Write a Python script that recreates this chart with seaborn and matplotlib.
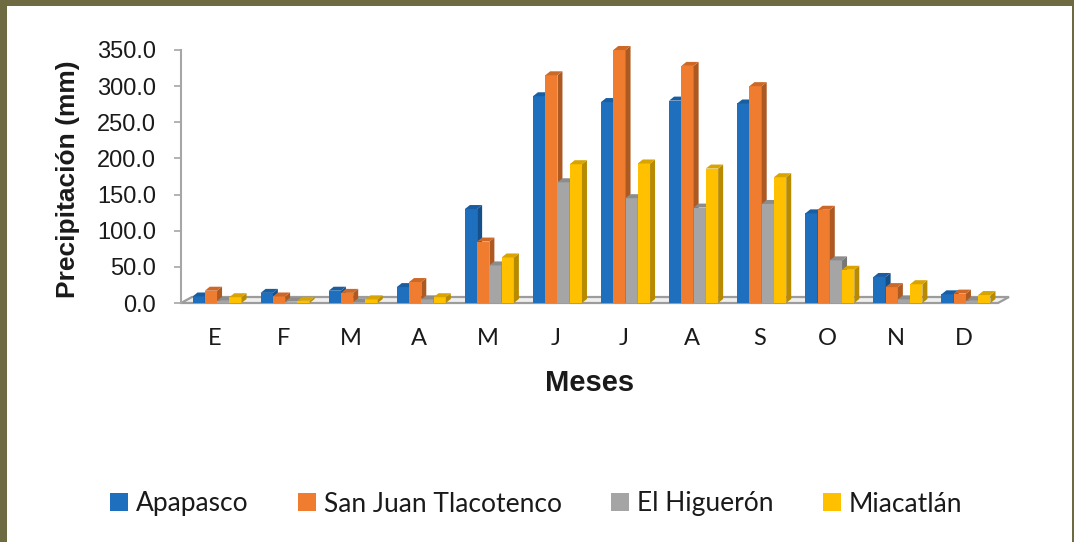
import numpy as np
import pandas as pd
import seaborn as sns
import matplotlib.pyplot as plt
import matplotlib.colors as mcolors
from matplotlib.patches import Polygon, Rectangle
from matplotlib.lines import Line2D

# Monthly precipitation (mm) for four stations
meses = ["Enero", "Febrero", "Marzo", "Abril", "Mayo", "Junio", "Julio",
         "Agosto", "Septiembre", "Octubre", "Noviembre", "Diciembre"]
etiquetas_mes = ["E", "F", "M", "A", "M", "J", "J", "A", "S", "O", "N", "D"]
estaciones = ["Apapasco", "San Juan Tlacotenco", "El Higuerón", "Miacatlán"]

apapasco = [9, 14, 17, 22, 130, 286, 278, 280, 276, 124, 36, 12]
san_juan = [17, 9, 14, 29, 85, 315, 350, 328, 300, 129, 22, 13]
higueron = [3, 2, 1, 5, 52, 167, 145, 132, 137, 59, 5, 3]
miacatlan = [8, 3, 5, 8, 63, 192, 193, 186, 174, 46, 26, 11]

y_ticks = [0, 50, 100, 150, 200, 250, 300, 350]

colores = ["#1F6FBF", "#F07C2F", "#A5A5A5", "#FFC000"]

df = pd.DataFrame({
    "Mes": meses * 4,
    "Estación": np.repeat(estaciones, len(meses)),
    "Precipitación": apapasco + san_juan + higueron + miacatlan,
})

sns.set_theme(style="white")
plt.rcParams["font.family"] = ["Liberation Sans", "DejaVu Sans"]

W, H = 1074, 542
fig = plt.figure(figsize=(W / 100, H / 100), dpi=100)
fig.patch.set_facecolor("white")
ax = fig.add_axes([181 / W, 239 / H, 817 / W, 253 / H])

sns.barplot(data=df, x="Mes", y="Precipitación", hue="Estación",
            order=meses, hue_order=estaciones, palette=colores,
            width=0.72, saturation=1, errorbar=None, linewidth=0,
            legend=False, ax=ax)

ax.set_xlim(-0.5, len(meses) - 0.5)
ax.set_ylim(0, 350)

# pixel -> data conversion for the pseudo-3D depth
p0 = ax.transData.transform((0, 0))
p1 = ax.transData.transform((1, 1))
sx, sy = p1[0] - p0[0], p1[1] - p0[1]
bar_dx, bar_dy = 5 / sx, 4 / sy
floor_dx, floor_dy = 11 / sx, 6 / sy
shift = 2 / sx  # slight perspective offset of the bar clusters


def shade(c, f):
    r, g, b = mcolors.to_rgb(c)
    return (r * f, g * f, b * f)


# floor plate
x_lo, x_hi = ax.get_xlim()
floor = Polygon([(x_lo, 0), (x_hi, 0), (x_hi + floor_dx, floor_dy),
                 (x_lo + floor_dx, floor_dy)], closed=True,
                facecolor="#EFEFEF", edgecolor="#9C9C9C", linewidth=1.6,
                zorder=1.5, clip_on=False)
ax.add_patch(floor)

# side and top faces for each bar
for k, cont in enumerate(ax.containers):
    base = colores[k]
    for bar in cont:
        bar.set_x(bar.get_x() + shift)
        x0, w, h = bar.get_x(), bar.get_width(), bar.get_height()
        z = 3 + k * 0.1
        bar.set_zorder(z)
        bar.set_clip_on(False)
        side = Polygon([(x0 + w, 0), (x0 + w + bar_dx, bar_dy),
                        (x0 + w + bar_dx, h + bar_dy), (x0 + w, h)],
                       closed=True, facecolor=shade(base, 0.72),
                       edgecolor="none", zorder=z, clip_on=False)
        top = Polygon([(x0, h), (x0 + w, h), (x0 + w + bar_dx, h + bar_dy),
                       (x0 + bar_dx, h + bar_dy)], closed=True,
                      facecolor=shade(base, 0.85), edgecolor="none",
                      zorder=z, clip_on=False)
        ax.add_patch(side)
        ax.add_patch(top)

for s in ["top", "right", "bottom"]:
    ax.spines[s].set_visible(False)
ax.spines["left"].set_color("#A6A6A6")
ax.spines["left"].set_linewidth(1.5)

ax.set_yticks(y_ticks)
ax.set_yticklabels([f"{v:.1f}" for v in y_ticks])
ax.tick_params(axis="y", left=True, length=5, width=1.2, color="#A6A6A6",
               labelsize=17, pad=13, labelcolor="#1A1A1A")
ax.set_xticks(range(len(meses)))
ax.set_xticklabels(etiquetas_mes, fontfamily="Lato", fontsize=17,
                   color="#1A1A1A")
ax.tick_params(axis="x", length=0, pad=18)
ax.set_xlabel("")
ax.set_ylabel("")
ax.grid(False)

fig.text(590 / W, 1 - 383 / H, "Meses", ha="center", va="center",
         fontsize=21, fontweight="bold", color="#1A1A1A")
fig.text(68 / W, 1 - 179 / H, "Precipitación (mm)", ha="center",
         va="center", rotation=90, fontsize=19, fontweight="bold",
         color="#1A1A1A")

handles = [Line2D([], [], linestyle="none", marker="s", markersize=12.5,
                  markerfacecolor=c, markeredgewidth=0) for c in colores]
fig.legend(handles, estaciones, ncol=4, loc="center",
           bbox_to_anchor=(536 / W, 1 - 504 / H), frameon=False,
           prop={"family": "Lato", "size": 19}, handlelength=0.7,
           handletextpad=0.3, columnspacing=1.85, labelcolor="#1A1A1A")

# frame bands
olive = "#6E6A42"
fig.add_artist(Rectangle((0, 1 - 6 / H), 1, 6 / H, transform=fig.transFigure,
                         facecolor=olive, edgecolor="none"))
fig.add_artist(Rectangle((0, 0), 7 / W, 1, transform=fig.transFigure,
                         facecolor=olive, edgecolor="none"))
fig.add_artist(Rectangle((1 - 2 / W, 0), 2 / W, 1, transform=fig.transFigure,
                         facecolor=olive, edgecolor="none"))

fig.savefig("out.png", dpi=100)
